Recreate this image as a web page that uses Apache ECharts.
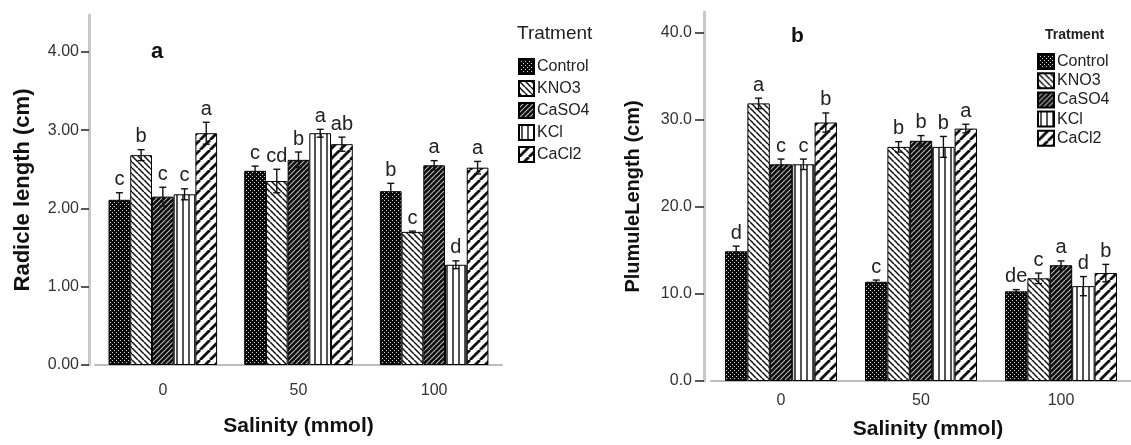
<!DOCTYPE html>
<html>
<head>
<meta charset="utf-8">
<script src="https://cdn.jsdelivr.net/npm/echarts@6/dist/echarts.min.js"></script>
<style>
html,body{margin:0;padding:0;background:#fff;}
#chart{width:1131px;height:445px;}
</style>
</head>
<body>
<div id="chart"></div>
<script>
// ---------- data ----------
const categories = ['0', '50', '100'];
const treatments = ['Control', 'KNO3', 'CaSO4', 'KCl', 'CaCl2'];

// Radicle length (cm), per treatment across salinity 0/50/100
const radControl = [2.11, 2.48, 2.22];
const radKNO3    = [2.68, 2.35, 1.70];
const radCaSO4   = [2.15, 2.62, 2.55];
const radKCl     = [2.18, 2.96, 1.28];
const radCaCl2   = [2.96, 2.82, 2.52];
const radErrControl = [0.09, 0.06, 0.10];
const radErrKNO3    = [0.07, 0.15, 0.01];
const radErrCaSO4   = [0.12, 0.10, 0.06];
const radErrKCl     = [0.07, 0.05, 0.05];
const radErrCaCl2   = [0.14, 0.09, 0.08];
const radLetControl = ['c', 'c', 'b'];
const radLetKNO3    = ['b', 'cd', 'c'];
const radLetCaSO4   = ['c', 'b', 'a'];
const radLetKCl     = ['c', 'a', 'd'];
const radLetCaCl2   = ['a', 'ab', 'a'];

// Plumule length (cm)
const pluControl = [14.9, 11.4, 10.3];
const pluKNO3    = [31.9, 26.9, 11.8];
const pluCaSO4   = [24.9, 27.6, 13.3];
const pluKCl     = [24.9, 26.9, 10.9];
const pluCaCl2   = [29.7, 29.0, 12.4];
const pluErrControl = [0.6, 0.2, 0.2];
const pluErrKNO3    = [0.6, 0.6, 0.6];
const pluErrCaSO4   = [0.6, 0.6, 0.5];
const pluErrKCl     = [0.6, 1.2, 1.1];
const pluErrCaCl2   = [1.1, 0.5, 1.0];
const pluLetControl = ['d', 'c', 'de'];
const pluLetKNO3    = ['a', 'b', 'c'];
const pluLetCaSO4   = ['c', 'b', 'a'];
const pluLetKCl     = ['c', 'b', 'd'];
const pluLetCaCl2   = ['b', 'a', 'b'];

const yTicksA = [0, 1, 2, 3, 4];
const yTicksB = [0, 10, 20, 30, 40];

const radMeans = [radControl, radKNO3, radCaSO4, radKCl, radCaCl2];
const radErrs = [radErrControl, radErrKNO3, radErrCaSO4, radErrKCl, radErrCaCl2];
const radLets = [radLetControl, radLetKNO3, radLetCaSO4, radLetKCl, radLetCaCl2];
const pluMeans = [pluControl, pluKNO3, pluCaSO4, pluKCl, pluCaCl2];
const pluErrs = [pluErrControl, pluErrKNO3, pluErrCaSO4, pluErrKCl, pluErrCaCl2];
const pluLets = [pluLetControl, pluLetKNO3, pluLetCaSO4, pluLetKCl, pluLetCaCl2];

// ---------- patterns ----------
const FONT = "'Liberation Sans', Arial, sans-serif";
function tile(size, draw) {
  const c = document.createElement('canvas');
  c.width = size[0]; c.height = size[1];
  const ctx = c.getContext('2d');
  draw(ctx, size[0], size[1]);
  return { image: c, repeat: 'repeat' };
}
function diag(ctx, s, dir) {
  for (const k of [-s, 0, s]) {
    ctx.beginPath();
    if (dir === 'back') { ctx.moveTo(k, 0); ctx.lineTo(k + s, s); }
    else { ctx.moveTo(k, s); ctx.lineTo(k + s, 0); }
    ctx.stroke();
  }
}
const patterns = [
  tile([4, 4], (ctx) => { ctx.fillStyle = '#0a0a0a'; ctx.fillRect(0, 0, 4, 4); ctx.fillStyle = '#d8d8d8'; ctx.fillRect(0, 0, 1, 1); ctx.fillRect(2, 2, 1, 1); }),
  tile([6, 6], (ctx, w) => { ctx.fillStyle = '#fff'; ctx.fillRect(0, 0, w, w); ctx.strokeStyle = '#111'; ctx.lineWidth = 1.5; diag(ctx, w, 'back'); }),
  tile([5, 5], (ctx, w) => { ctx.fillStyle = '#0a0a0a'; ctx.fillRect(0, 0, w, w); ctx.strokeStyle = '#bbb'; ctx.lineWidth = 1.1; diag(ctx, w, 'fwd'); }),
  tile([6, 6], (ctx, w) => { ctx.fillStyle = '#fff'; ctx.fillRect(0, 0, w, w); ctx.fillStyle = '#555'; ctx.fillRect(2, 0, 2, w); }),
  tile([10, 10], (ctx, w) => { ctx.fillStyle = '#fff'; ctx.fillRect(0, 0, w, w); ctx.strokeStyle = '#111'; ctx.lineWidth = 2.8; diag(ctx, w, 'fwd'); })
];

// ---------- helpers ----------
function errData(errs, means) {
  const out = [];
  for (let s = 0; s < treatments.length; s++)
    for (let c = 0; c < categories.length; c++)
      out.push([c, s, means[s][c], errs[s][c]]);
  return out;
}
function makeRender(lets) {
  return function (params, api) {
    const ci = api.value(0), si = api.value(1), m = api.value(2), e = api.value(3);
    const base = api.coord([ci, 0]);
    const catW = api.size([1, 0])[0];
    const groupW = catW * 0.8;
    const bw = groupW / treatments.length;
    const x = base[0] - groupW / 2 + (si + 0.5) * bw;
    const yT = api.coord([ci, m + e])[1];
    const yB = api.coord([ci, m - e])[1];
    const st = { stroke: '#111', lineWidth: 1.4 };
    const cap = 3.5;
    return {
      type: 'group',
      children: [
        { type: 'line', shape: { x1: x, y1: yT, x2: x, y2: yB }, style: st },
        { type: 'line', shape: { x1: x - cap, y1: yT, x2: x + cap, y2: yT }, style: st },
        { type: 'line', shape: { x1: x - cap, y1: yB, x2: x + cap, y2: yB }, style: st },
        { type: 'text', style: { text: lets[si][ci], x: x, y: yT - 3, align: 'center', verticalAlign: 'bottom', fontSize: 20, fontFamily: FONT, fill: '#222' } }
      ]
    };
  };
}
function barSeries(means, gi) {
  return treatments.map((t, i) => ({
    type: 'bar', name: t, xAxisIndex: gi, yAxisIndex: gi,
    data: means[i], barGap: '0%', barCategoryGap: '20%',
    itemStyle: { color: patterns[i], borderColor: '#000', borderWidth: 1 },
    emphasis: { disabled: true }
  }));
}
function xAxisCfg(gi, margin, nameGap, namePad) {
  return {
    type: 'category', gridIndex: gi, data: categories,
    axisLine: { lineStyle: { color: '#bdbdbd', width: 2 } },
    axisTick: { alignWithLabel: true, length: 8, lineStyle: { color: '#222', width: 1.5 } },
    axisLabel: { margin: margin, fontSize: 16, color: '#333', fontFamily: FONT },
    name: 'Salinity (mmol)', nameLocation: 'middle', nameGap: nameGap,
    nameTextStyle: { fontSize: 21, fontWeight: 'bold', color: '#111', fontFamily: FONT, padding: namePad }
  };
}
function yAxisCfg(gi, max, ticks, digits, offset, name, nameGap, nameSize, tickLen, margin) {
  return {
    type: 'value', gridIndex: gi, min: 0, max: max, offset: offset,
    axisLine: { show: true, lineStyle: { color: '#c8c8c8', width: 3 } },
    axisTick: { show: true, length: tickLen, customValues: ticks, lineStyle: { color: '#222', width: 1.5 } },
    axisLabel: { customValues: ticks, margin: margin, fontSize: 16, color: '#333', fontFamily: FONT, formatter: v => v.toFixed(digits) },
    splitLine: { show: false },
    name: name, nameLocation: 'middle', nameGap: nameGap,
    nameTextStyle: { fontSize: nameSize, fontWeight: 'bold', color: '#111', fontFamily: FONT }
  };
}

const chart = echarts.init(document.getElementById('chart'), null, { renderer: 'canvas' });
chart.setOption({
  backgroundColor: '#fff',
  animation: false,
  title: [
    { text: 'a', left: 151, top: 41, padding: 0, textStyle: { fontSize: 22, fontWeight: 'bold', color: '#111', fontFamily: FONT } },
    { text: 'b', left: 791, top: 26, padding: 0, textStyle: { fontSize: 21, fontWeight: 'bold', color: '#111', fontFamily: FONT } },
    { text: 'Tratment', left: 517, top: 24, padding: 0, textStyle: { fontSize: 19, fontWeight: 'normal', color: '#222', fontFamily: FONT } },
    { text: 'Tratment', left: 1045, top: 28, padding: 0, textStyle: { fontSize: 14, fontWeight: 'bold', color: '#222', fontFamily: FONT } }
  ],
  legend: [
    { orient: 'vertical', left: 518, top: 58, padding: 0, itemWidth: 15, itemHeight: 15, itemGap: 5, icon: 'rect', selectedMode: false,
      data: treatments, textStyle: { fontSize: 16, color: '#222', fontFamily: FONT, padding: [0, 0, 0, -2] } },
    { orient: 'vertical', left: 1037, top: 53, padding: 0, itemWidth: 16, itemHeight: 15, itemGap: 2.2, icon: 'rect', selectedMode: false,
      data: treatments, textStyle: { fontSize: 16, color: '#222', fontFamily: FONT, padding: [0, 0, 0, -2] } }
  ],
  grid: [
    { left: 95, top: 15, width: 407, height: 350 },
    { left: 711, top: 12, width: 427, height: 370 }
  ],
  xAxis: [xAxisCfg(0, 18, 51, [0, 0, 0, 0]), xAxisCfg(1, 12, 38, [0, 0, 0, 14])],
  yAxis: [
    yAxisCfg(0, 4.47, yTicksA, 2, 6, 'Radicle length (cm)', 55, 22, 8, 10),
    yAxisCfg(1, 42.4, yTicksB, 1, 7, 'PlumuleLength (cm)', 61, 20, 9, 12)
  ],
  series: [
    ...barSeries(radMeans, 0),
    ...barSeries(pluMeans, 1),
    { type: 'custom', xAxisIndex: 0, yAxisIndex: 0, data: errData(radErrs, radMeans), renderItem: makeRender(radLets), z: 10, silent: true },
    { type: 'custom', xAxisIndex: 1, yAxisIndex: 1, data: errData(pluErrs, pluMeans), renderItem: makeRender(pluLets), z: 10, silent: true }
  ]
});
</script>
</body>
</html>
